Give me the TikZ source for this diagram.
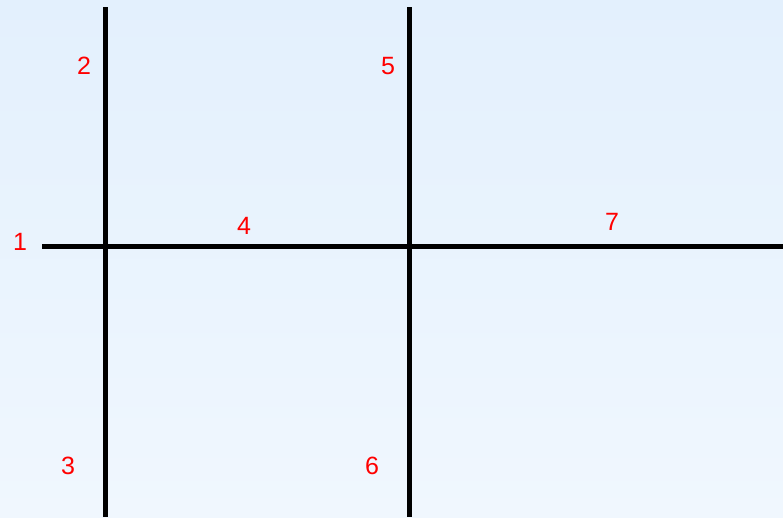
\documentclass[tikz,border=0pt]{standalone}
\usepackage{fontspec}
\setmainfont{Liberation Sans}
\begin{document}
\begin{tikzpicture}[x=1pt,y=-1pt,
  lbl/.style={text=red,font=\fontsize{25}{30}\selectfont,inner sep=0pt,anchor=center},
  bar/.style={line width=5pt,black}]
\useasboundingbox (0,0) rectangle (783,517);
\shade[top color={rgb,255:red,227;green,240;blue,253},bottom color={rgb,255:red,240;green,247;blue,254}] (0,0) rectangle (783,517);
\coordinate (hl) at (42,246.5);
\coordinate (hr) at (783,246.5);
\coordinate (v1t) at (105.5,7);
\coordinate (v1b) at (105.5,517);
\coordinate (v2t) at (409.5,7);
\coordinate (v2b) at (409.5,517);
\draw[bar] (hl) -- (hr);
\draw[bar] (v1t) -- (v1b);
\draw[bar] (v2t) -- (v2b);
\node[lbl] (n1) at (20,242) {1};
\node[lbl] (n2) at (84,66) {2};
\node[lbl] (n3) at (68,466) {3};
\node[lbl] (n4) at (244,226) {4};
\node[lbl] (n5) at (388,66) {5};
\node[lbl] (n6) at (372,466) {6};
\node[lbl] (n7) at (612,222) {7};
\end{tikzpicture}
\end{document}
